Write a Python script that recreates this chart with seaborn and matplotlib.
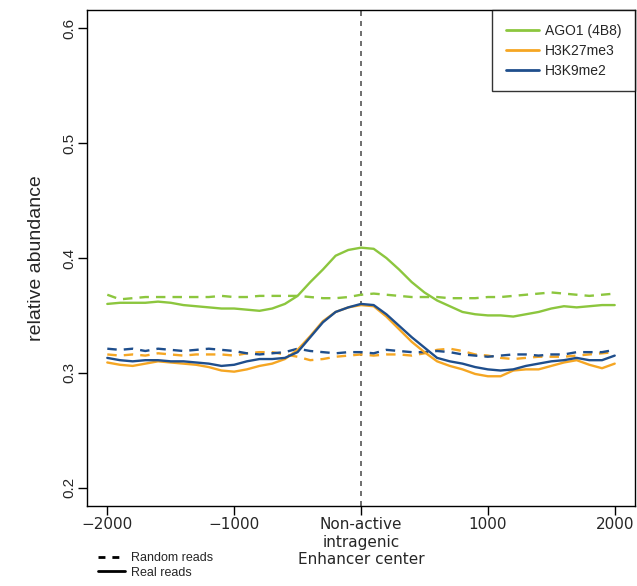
import matplotlib
matplotlib.use("Agg")
import matplotlib.pyplot as plt
import seaborn as sns
import pandas as pd
from matplotlib.lines import Line2D

positions = list(range(-2000, 2001, 100))

ago1_real = [.360, .361, .361, .361, .362, .361, .359, .358, .357, .356, .356,
             .355, .354, .356, .360, .367, .379, .390, .402, .407, .409,
             .408, .400, .390, .379, .370, .363, .358, .353, .351, .350,
             .350, .349, .351, .353, .356, .358, .357, .358, .359, .359]
ago1_random = [.368, .364, .365, .366, .366, .366, .366, .366, .366, .367, .366,
               .366, .367, .367, .367, .367, .366, .365, .365, .366, .368,
               .369, .368, .367, .366, .366, .366, .365, .365, .365, .366,
               .366, .367, .368, .369, .370, .369, .368, .367, .368, .369]
h3k27_real = [.309, .307, .306, .308, .310, .309, .308, .307, .305, .302, .301,
              .303, .306, .308, .312, .320, .332, .345, .353, .357, .359,
              .358, .349, .338, .327, .318, .310, .306, .303, .299, .297,
              .297, .302, .303, .303, .306, .309, .311, .307, .304, .308]
h3k27_random = [.316, .315, .316, .315, .317, .316, .315, .316, .316, .316, .315,
                .317, .318, .318, .316, .314, .311, .312, .314, .315, .316,
                .315, .316, .316, .315, .317, .320, .321, .319, .316, .315,
                .313, .312, .313, .314, .314, .314, .315, .316, .317, .318]
h3k9_real = [.313, .311, .310, .311, .311, .310, .310, .309, .308, .306, .307,
             .310, .312, .312, .313, .318, .331, .344, .353, .357, .360,
             .359, .351, .341, .331, .322, .313, .310, .308, .305, .303,
             .302, .303, .306, .308, .310, .311, .313, .311, .311, .315]
h3k9_random = [.321, .320, .321, .319, .321, .320, .319, .320, .321, .320, .319,
               .317, .316, .317, .318, .321, .319, .318, .317, .318, .318,
               .317, .320, .319, .318, .318, .319, .318, .316, .315, .314,
               .315, .316, .316, .315, .316, .316, .318, .318, .318, .320]

series_names = ["AGO1 (4B8)", "H3K27me3", "H3K9me2"]
colors = ["#8cc63e", "#f5a623", "#1f4e8c"]
x_ticks = [-2000, -1000, 0, 1000, 2000]
x_tick_labels = ["\u22122000", "\u22121000", "Non-active\nintragenic\nEnhancer center", "1000", "2000"]
y_ticks = [0.2, 0.3, 0.4, 0.5, 0.6]

rows = []
for name, real, rand in zip(series_names,
                            [ago1_real, h3k27_real, h3k9_real],
                            [ago1_random, h3k27_random, h3k9_random]):
    for x, v in zip(positions, real):
        rows.append((name, "Real reads", x, v))
    for x, v in zip(positions, rand):
        rows.append((name, "Random reads", x, v))
df = pd.DataFrame(rows, columns=["mark", "reads", "pos", "value"])

sns.set_style("white")
plt.rcParams['font.family'] = ['Liberation Sans', 'DejaVu Sans']

fig = plt.figure(figsize=(6.37, 5.86), dpi=100)
ax = fig.add_axes([87/637, 1-506/586, 548/637, 496/586])

ax.axvline(0, color="#555555", ls=(0, (3, 3)), lw=1.2, zorder=1)

for name, col in zip(series_names, colors):
    sub = df[(df.mark == name) & (df.reads == "Random reads")]
    sns.lineplot(data=sub, x="pos", y="value", ax=ax, color=col, lw=1.7,
                 linestyle=(0, (4, 3)), legend=False)
for name, col in zip(series_names, colors):
    sub = df[(df.mark == name) & (df.reads == "Real reads")]
    sns.lineplot(data=sub, x="pos", y="value", ax=ax, color=col, lw=1.7, legend=False)

ax.set_xlim(-2160, 2160)
ax.set_ylim(0.184, 0.616)
ax.set_xticks(x_ticks)
ax.set_xticklabels(x_tick_labels, fontsize=11, family=['DejaVu Sans'])
ax.set_yticks(y_ticks)
ax.set_yticklabels([str(t) for t in y_ticks], rotation=90, va="center", fontsize=11)
ax.set_xlabel("")
ax.set_ylabel("relative abundance", fontsize=14, labelpad=12)
ax.tick_params(axis="both", direction="out", length=6.5, width=1, color="black",
               bottom=True, left=True, pad=1.5)
for s in ax.spines.values():
    s.set_color("black")
    s.set_linewidth(1)

handles = [Line2D([], [], color=c, lw=2) for c in colors]
leg = ax.legend(handles, series_names, loc="upper right", frameon=True, fancybox=False,
                fontsize=10, borderaxespad=0, handlelength=2.4, labelspacing=0.42,
                borderpad=1.0, handletextpad=0.4)
leg.get_frame().set_edgecolor("black")
leg.get_frame().set_linewidth(1)

h2 = [Line2D([], [], color="black", lw=2, ls=(0, (2.5, 2.5))),
      Line2D([], [], color="black", lw=2)]
fig.legend(h2, ["Random reads", "Real reads"], loc="lower left",
           bbox_to_anchor=(90/637, 0.0), frameon=False, fontsize=9,
           handlelength=2.2, labelspacing=0.2, handletextpad=0.5, borderaxespad=0.2)

fig.savefig("out.png", dpi=100)
